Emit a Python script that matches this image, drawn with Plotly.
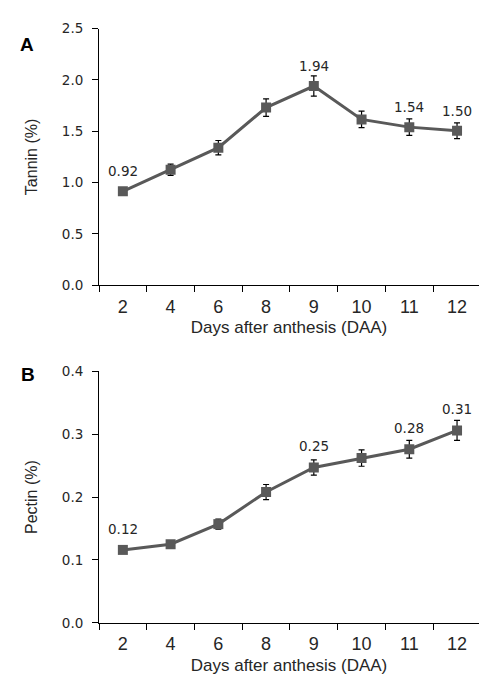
import plotly.graph_objects as go

days = ["2", "4", "6", "8", "9", "10", "11", "12"]
tannin = [0.915, 1.125, 1.34, 1.73, 1.94, 1.615, 1.54, 1.505]
tannin_err = [0.03, 0.055, 0.07, 0.085, 0.098, 0.08, 0.08, 0.076]
tannin_labels = ["0.92", "", "", "", "1.94", "", "1.54", "1.50"]
pectin = [0.116, 0.125, 0.157, 0.208, 0.247, 0.262, 0.276, 0.306]
pectin_err = [0.003, 0.003, 0.008, 0.012, 0.012, 0.013, 0.014, 0.016]
pectin_labels = ["0.12", "", "", "", "0.25", "", "0.28", "0.31"]

W, H = 479, 680
LINE = "#595959"
TXT = "#262626"

fig = go.Figure()

def add_panel(vals, errs, xa, ya):
    fig.add_trace(go.Scatter(
        x=days, y=vals, xaxis=xa, yaxis=ya, mode="lines+markers",
        line=dict(color=LINE, width=3),
        marker=dict(symbol="square", size=10, color=LINE),
        error_y=dict(type="data", array=errs, color="#000000", thickness=1.2, width=3),
        showlegend=False, hoverinfo="skip"))

add_panel(tannin, tannin_err, "x", "y")
add_panel(pectin, pectin_err, "x2", "y2")

anns = []
for i, (v, t) in enumerate(zip(tannin, tannin_labels)):
    if t:
        anns.append(dict(x=i, y=v, xref="x", yref="y", text=t, showarrow=False,
                         yshift=20, font=dict(family="DejaVu Sans", size=13.5, color=TXT)))
for i, (v, t) in enumerate(zip(pectin, pectin_labels)):
    if t:
        anns.append(dict(x=i, y=v, xref="x2", yref="y2", text=t, showarrow=False,
                         yshift=21, font=dict(family="DejaVu Sans", size=13.5, color=TXT)))
anns.append(dict(x=18 / W, y=1 - 25 / H, xref="paper", yref="paper", text="<b>A</b>",
                 showarrow=False, font=dict(family="Liberation Sans", size=19, color="#000")))
anns.append(dict(x=19 / W, y=1 - 375 / H, xref="paper", yref="paper", text="<b>B</b>",
                 showarrow=False, font=dict(family="Liberation Sans", size=19, color="#000")))

xdom = [99 / W, 1.0]
xcommon = dict(
    type="category", domain=xdom, range=[-0.5, 7.46], showline=True, linecolor="#000",
    linewidth=1, ticks="outside", ticklen=6, tickcolor="#000", tickson="boundaries",
    showgrid=False, zeroline=False, ticklabelstandoff=5,
    tickfont=dict(family="Liberation Sans", size=18, color=TXT),
    title=dict(text="Days after anthesis (DAA)", standoff=5,
               font=dict(family="Liberation Sans", size=17, color=TXT)),
)
ycommon = dict(
    showline=True, linecolor="#000", linewidth=1, ticks="outside", ticklen=6,
    tickcolor="#000", showgrid=False, zeroline=False, tickformat=".1f",
    tickfont=dict(family="DejaVu Sans", size=13.5, color=TXT), ticklabelstandoff=6,
)

fig.update_layout(
    width=W, height=H, margin=dict(l=0, r=0, t=0, b=0),
    paper_bgcolor="white", plot_bgcolor="white",
    xaxis=dict(**xcommon, anchor="y"),
    yaxis=dict(**ycommon, domain=[1 - 284 / H, 1 - 21 / H], range=[0, 2.5], dtick=0.5,
               anchor="x",
               title=dict(text="Tannin (%)", standoff=20,
                          font=dict(family="Liberation Sans", size=16, color=TXT))),
    xaxis2=dict(**xcommon, anchor="y2"),
    yaxis2=dict(**ycommon, domain=[1 - 629.7 / H, 1 - 372 / H], range=[0, 0.4], dtick=0.1,
                anchor="x2",
                title=dict(text="Pectin (%)", standoff=20,
                           font=dict(family="Liberation Sans", size=16, color=TXT))),
    annotations=anns,
)

fig.write_html("out.html")
